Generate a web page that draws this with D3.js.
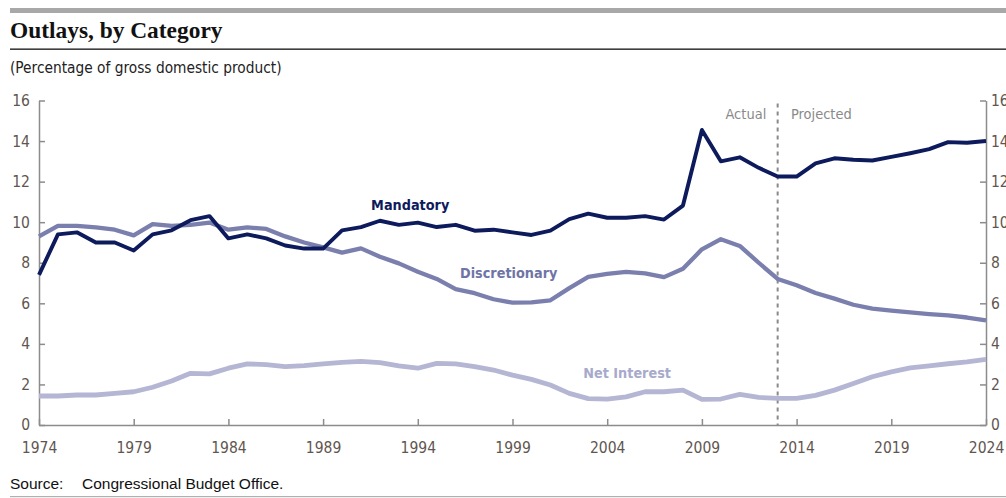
<!DOCTYPE html>
<html>
<head>
<meta charset="utf-8">
<script src="https://cdn.jsdelivr.net/npm/d3@7"></script>
<style>
  html, body { margin: 0; padding: 0; background: #fff; }
  svg { display: block; }
</style>
</head>
<body>
<svg id="chart" width="1006" height="498"></svg>
<script>
// ---- Data ----
const years = d3.range(1974, 2025);
const mandatory = [
  7.4, 9.4, 9.5, 9.0, 9.0, 8.6, 9.4, 9.6, 10.1, 10.3,
  9.2, 9.4, 9.2, 8.85, 8.7, 8.7, 9.6, 9.76, 10.07, 9.87,
  9.98, 9.76, 9.87, 9.58, 9.63, 9.5, 9.37, 9.58, 10.15, 10.42,
  10.22, 10.22, 10.3, 10.13, 10.82, 14.55, 13.0, 13.2, 12.68, 12.25,
  12.25, 12.9, 13.15, 13.08, 13.04, 13.22, 13.4, 13.6, 13.95, 13.92,
  14.0
];
const discretionary = [
  9.3, 9.82, 9.82, 9.74, 9.63, 9.35, 9.9, 9.82, 9.87, 9.98,
  9.63, 9.74, 9.67, 9.3, 9.0, 8.76, 8.5, 8.71, 8.3, 7.97,
  7.56, 7.2, 6.7, 6.5, 6.2, 6.03, 6.05, 6.15, 6.75, 7.3,
  7.45, 7.55, 7.48, 7.29, 7.7, 8.66, 9.16, 8.83, 8.0, 7.2,
  6.89, 6.51, 6.23, 5.93, 5.74, 5.64, 5.55, 5.47, 5.4, 5.3,
  5.16
];
const netInterest = [
  1.43, 1.43, 1.48, 1.48, 1.56, 1.64, 1.86, 2.17, 2.55, 2.52,
  2.8, 3.01, 2.98, 2.88, 2.93, 3.01, 3.09, 3.14, 3.08, 2.91,
  2.8, 3.04, 3.01, 2.88, 2.71, 2.46, 2.25, 1.97, 1.56, 1.3,
  1.28, 1.39, 1.64, 1.64, 1.72, 1.26, 1.28, 1.51, 1.36, 1.31,
  1.31, 1.46, 1.72, 2.05, 2.38, 2.62, 2.82, 2.92, 3.02, 3.11,
  3.23
];
const yearTicks = [1974, 1979, 1984, 1989, 1994, 1999, 2004, 2009, 2014, 2019, 2024];
const valueTicks = [0, 2, 4, 6, 8, 10, 12, 14, 16];
const splitYear = 2013;
const seriesNames = ["Mandatory", "Discretionary", "Net Interest"];
const labelYears = [1993.6, 1998.8, 2005.05];
const labelValues = [10.85, 7.5, 2.56];
const annotationYears = [2012.4, 2013.7];
const annotationValue = 15.33;

// ---- Layout ----
const svg = d3.select("#chart");
const x = d3.scaleLinear().domain([1974, 2024]).range([39, 986]);
const y = d3.scaleLinear().domain([0, 16]).range([425, 100.5]);
const colors = ["#0d1a5c", "#7a7fae", "#b4b6d4"];
const widths = [3.9, 4.3, 4.8];
const tickFont = "'Liberation Sans Narrow', 'DejaVu Sans Condensed', sans-serif";
const axisColor = "#8c8c8c";
const tickTextColor = "#5f5650";

// Header
svg.append("rect").attr("x", 10).attr("y", 8).attr("width", 996).attr("height", 5).attr("fill", "#a8a8a8");
svg.append("text").attr("x", 10).attr("y", 38)
  .attr("font-family", "'Liberation Serif', 'DejaVu Serif', serif")
  .attr("font-weight", "bold").attr("font-size", 23.4).attr("fill", "#111")
  .text("Outlays, by Category");
svg.append("rect").attr("x", 10).attr("y", 48.5).attr("width", 996).attr("height", 1.3).attr("fill", "#111");
svg.append("text").attr("x", 10).attr("y", 73)
  .attr("font-family", tickFont).attr("font-size", 15.3).attr("fill", "#222")
  .text("(Percentage of gross domestic product)");

// Axes
function styleAxis(g) {
  g.selectAll("path.domain").attr("stroke", axisColor).attr("stroke-width", 1.5);
  g.selectAll(".tick line").attr("stroke", axisColor).attr("stroke-width", 1.5);
  g.selectAll(".tick text").attr("fill", tickTextColor).attr("font-family", tickFont).attr("font-size", 15.5);
}
svg.append("g").attr("transform", `translate(${x(1974)},0)`)
  .call(d3.axisLeft(y).tickValues(valueTicks).tickSizeInner(-6).tickSizeOuter(0).tickPadding(9).tickFormat(d3.format("d")))
  .call(styleAxis);
svg.append("g").attr("transform", `translate(${x(2024)},0)`)
  .call(d3.axisRight(y).tickValues(valueTicks).tickSizeInner(-6).tickSizeOuter(0).tickPadding(5).tickFormat(d3.format("d")))
  .call(styleAxis);
svg.append("g").attr("transform", `translate(0,${y(0)})`)
  .call(d3.axisBottom(x).tickValues(yearTicks).tickSizeInner(-6).tickSizeOuter(0).tickPadding(17).tickFormat(d3.format("d")))
  .call(styleAxis);

// Actual / projected divider
svg.append("line")
  .attr("x1", x(splitYear)).attr("x2", x(splitYear))
  .attr("y1", y(15.85)).attr("y2", y(0))
  .attr("stroke", "#8a8a8a").attr("stroke-width", 2).attr("stroke-dasharray", "4,4");
svg.append("text").attr("x", x(annotationYears[0])).attr("y", y(annotationValue)).attr("dy", "0.35em")
  .attr("text-anchor", "end").attr("font-family", tickFont).attr("font-size", 14.5).attr("fill", "#8a8a8a")
  .text("Actual");
svg.append("text").attr("x", x(annotationYears[1])).attr("y", y(annotationValue)).attr("dy", "0.35em")
  .attr("text-anchor", "start").attr("font-family", tickFont).attr("font-size", 14.5).attr("fill", "#8a8a8a")
  .text("Projected");

// Lines
const line = d3.line().x((d, i) => x(years[i])).y(d => y(d));
const allSeries = [mandatory, discretionary, netInterest];
[2, 1, 0].forEach(k => {
  svg.append("path").datum(allSeries[k])
    .attr("d", line)
    .attr("fill", "none")
    .attr("stroke", colors[k])
    .attr("stroke-width", widths[k])
    .attr("stroke-linejoin", "round")
    .attr("stroke-linecap", "butt");
});

// Series labels
seriesNames.forEach((name, k) => {
  svg.append("text")
    .attr("x", x(labelYears[k])).attr("y", y(labelValues[k])).attr("dy", "0.35em")
    .attr("text-anchor", "middle")
    .attr("font-family", tickFont).attr("font-weight", "bold").attr("font-size", 14.3)
    .attr("fill", k === 0 ? colors[0] : (k === 1 ? "#6f74a6" : "#a7aacb"))
    .text(name);
});

// Source
svg.append("text").attr("x", 10).attr("y", 489)
  .attr("font-family", "'Liberation Sans', 'DejaVu Sans', sans-serif").attr("font-size", 15.5).attr("fill", "#111")
  .text("Source:");
svg.append("text").attr("x", 82).attr("y", 489)
  .attr("font-family", "'Liberation Sans', 'DejaVu Sans', sans-serif").attr("font-size", 15.5).attr("fill", "#111")
  .text("Congressional Budget Office.");
svg.append("rect").attr("x", 10).attr("y", 496).attr("width", 996).attr("height", 1.2).attr("fill", "#b0b0b0");
</script>
</body>
</html>
